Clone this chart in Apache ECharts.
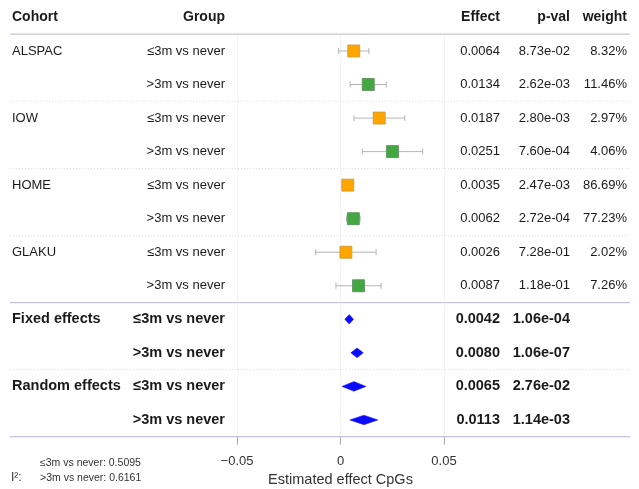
<!DOCTYPE html>
<html><head><meta charset="utf-8">
<script src="https://cdn.jsdelivr.net/npm/echarts@6/dist/echarts.min.js"></script>
<style>html,body{margin:0;padding:0;background:#fff}#c{width:639px;height:489px}</style>
</head><body><div id="c"></div>
<script>
// ---- data ----
const cohorts = ['ALSPAC', '', 'IOW', '', 'HOME', '', 'GLAKU', '', 'Fixed effects', '', 'Random effects', ''];
const groups = ['≤3m vs never', '>3m vs never', '≤3m vs never', '>3m vs never', '≤3m vs never', '>3m vs never',
                '≤3m vs never', '>3m vs never', '≤3m vs never', '>3m vs never', '≤3m vs never', '>3m vs never'];
const effects = [0.0064, 0.0134, 0.0187, 0.0251, 0.0035, 0.0062, 0.0026, 0.0087, 0.0042, 0.0080, 0.0065, 0.0113];
const lower = [-0.0009, 0.0047, 0.0065, 0.0105, 0.0012, 0.0029, -0.0120, -0.0022, 0.0021, 0.0050, 0.0007, 0.0045];
const upper = [0.0137, 0.0221, 0.0310, 0.0397, 0.0058, 0.0095, 0.0172, 0.0196, 0.0063, 0.0110, 0.0123, 0.0181];
const pvals = ['8.73e-02', '2.62e-03', '2.80e-03', '7.60e-04', '2.47e-03', '2.72e-04', '7.28e-01', '1.18e-01',
               '1.06e-04', '1.06e-07', '2.76e-02', '1.14e-03'];
const weights = ['8.32%', '11.46%', '2.97%', '4.06%', '86.69%', '77.23%', '2.02%', '7.26%', '', '', '', ''];
const isSummary = [false, false, false, false, false, false, false, false, true, true, true, true];
const headers = ['Cohort', 'Group', 'Effect', 'p-val', 'weight'];
const i2Groups = ['≤3m vs never', '>3m vs never'];
const i2Values = ['0.5095', '0.6161'];
const xTicks = [-0.05, 0, 0.05];
const xTitle = 'Estimated effect CpGs';

// ---- chart ----
const FONT = '"Liberation Sans", Arial, Helvetica, sans-serif';
const TXT = '#1a1a1a';
const rows = effects.map((_, i) => String(i));
const chart = echarts.init(document.getElementById('c'), null, {renderer: 'canvas'});

function colAxis(position, align, margin, fn) {
  return {
    type: 'category', data: rows, inverse: true, position: position, offset: 0,
    axisLine: {show: false}, axisTick: {show: false}, splitLine: {show: false},
    axisLabel: {
      show: true, interval: 0, align: align, margin: margin,
      fontFamily: FONT, fontSize: 13, color: TXT,
      formatter: function (v, i) {
        const t = fn(i);
        if (!t) return '';
        return isSummary[i] ? '{b|' + t + '}' : t;
      },
      rich: {b: {fontFamily: FONT, fontSize: 14.5, fontWeight: 'bold', color: TXT}}
    }
  };
}

const studyIdx = effects.map((_, i) => i).filter(i => !isSummary[i]);
const sumIdx = effects.map((_, i) => i).filter(i => isSummary[i]);

const option = {
  animation: false,
  backgroundColor: '#fff',
  grid: {left: 237, right: 195, top: 34.2, bottom: 52.3, outerBoundsMode: 'none', containLabel: false},
  xAxis: {
    type: 'value', min: xTicks[0], max: xTicks[xTicks.length - 1], interval: 0.05,
    axisLine: {show: false},
    axisTick: {show: true, length: 8, lineStyle: {color: '#aaaaaa'}},
    axisLabel: {fontFamily: FONT, fontSize: 13, color: '#333', margin: 18,
      formatter: v => (Math.abs(v) < 1e-12 ? '0' : String(+v.toFixed(2)).replace('-', '\u2212'))},
    splitLine: {show: true, lineStyle: {color: '#e8e8e8', type: 'dotted'}},
    name: xTitle, nameLocation: 'middle', nameGap: 33,
    nameTextStyle: {fontFamily: FONT, fontSize: 14.5, color: '#333'}
  },
  yAxis: [
    colAxis('left', 'right', 12, i => groups[i]),
    colAxis('left', 'left', 225, i => cohorts[i]),
    colAxis('right', 'right', 56, i => effects[i].toFixed(4)),
    colAxis('right', 'right', 126, i => pvals[i]),
    colAxis('right', 'right', 183, i => weights[i])
  ],
  series: [
    {
      type: 'custom', name: 'ci', yAxisIndex: 0, z: 2,
      data: studyIdx.map(i => [lower[i], upper[i], i]),
      encode: {x: [0, 1], y: 2},
      renderItem: function (params, api) {
        const a = api.coord([api.value(0), api.value(2)]);
        const b = api.coord([api.value(1), api.value(2)]);
        const st = {stroke: '#b5b5b5', lineWidth: 1};
        return {type: 'group', children: [
          {type: 'line', shape: {x1: a[0], y1: a[1], x2: b[0], y2: b[1]}, style: st},
          {type: 'line', shape: {x1: a[0], y1: a[1] - 3, x2: a[0], y2: a[1] + 3}, style: st},
          {type: 'line', shape: {x1: b[0], y1: b[1] - 3, x2: b[0], y2: b[1] + 3}, style: st}
        ]};
      }
    },
    {
      type: 'scatter', name: '≤3m', yAxisIndex: 0, z: 3, symbol: 'rect', symbolSize: 12,
      itemStyle: {color: '#FFA500', borderColor: '#c89a3a', borderWidth: 0.8, opacity: 1},
      data: studyIdx.filter(i => groups[i].charAt(0) === '≤').map(i => [effects[i], i])
    },
    {
      type: 'scatter', name: '>3m', yAxisIndex: 0, z: 3, symbol: 'rect', symbolSize: 12,
      itemStyle: {color: '#43A843', borderColor: '#5a8a5a', borderWidth: 0.8, opacity: 1},
      data: studyIdx.filter(i => groups[i].charAt(0) === '>').map(i => [effects[i], i])
    },
    {
      type: 'custom', name: 'summary', yAxisIndex: 0, z: 3,
      data: sumIdx.map(i => [lower[i], upper[i], effects[i], i]),
      encode: {x: [0, 1, 2], y: 3},
      renderItem: function (params, api) {
        const l = api.coord([api.value(0), api.value(3)]);
        const u = api.coord([api.value(1), api.value(3)]);
        const e = api.coord([api.value(2), api.value(3)]);
        const h = 4.8;
        return {type: 'polygon', shape: {points: [[l[0], l[1]], [e[0], e[1] - h], [u[0], u[1]], [e[0], e[1] + h]]},
          style: {fill: '#0a0aff', stroke: '#0a0aff', lineWidth: 0.5}};
      }
    }
  ]
};
chart.setOption(option);

// separator lines and header / footnote text
const rowY = i => chart.convertToPixel({gridIndex: 0}, [0, i])[1];
const band = rowY(1) - rowY(0);
const graphics = [];
function hline(y, solid) {
  graphics.push({type: 'line', z: 1, silent: true,
    shape: {x1: 10, y1: y, x2: 630, y2: y},
    style: solid ? {stroke: '#c4c4dc', lineWidth: 1.2} : {stroke: '#dddddd', lineWidth: 1, lineDash: [1, 2]}});
}
hline(rowY(0) - band / 2, true);
for (let i = 0; i < rows.length - 1; i++) {
  if (cohorts[i + 1] !== '') {
    hline(rowY(i) + band / 2, isSummary[i + 1] && !isSummary[i]);
  }
}
hline(rowY(rows.length - 1) + band / 2, true);

const headerPos = [[12, 'left'], [225, 'right'], [500, 'right'], [570, 'right'], [627, 'right']];
headers.forEach((h, k) => {
  graphics.push({type: 'text', x: headerPos[k][0], y: 17, silent: true,
    style: {text: h, fill: TXT, font: 'bold 14px ' + FONT, align: headerPos[k][1], verticalAlign: 'middle'}});
});
i2Groups.forEach((g, k) => {
  graphics.push({type: 'text', x: 40, y: 463 + k * 15, silent: true,
    style: {text: g + ': ' + i2Values[k], fill: '#333', font: '10.5px ' + FONT, align: 'left', verticalAlign: 'middle'}});
});
graphics.push({type: 'text', x: 11, y: 478, silent: true,
  style: {text: 'I²:', fill: '#333', font: '12px ' + FONT, align: 'left', verticalAlign: 'middle'}});
chart.setOption({graphic: graphics});
</script></body></html>
